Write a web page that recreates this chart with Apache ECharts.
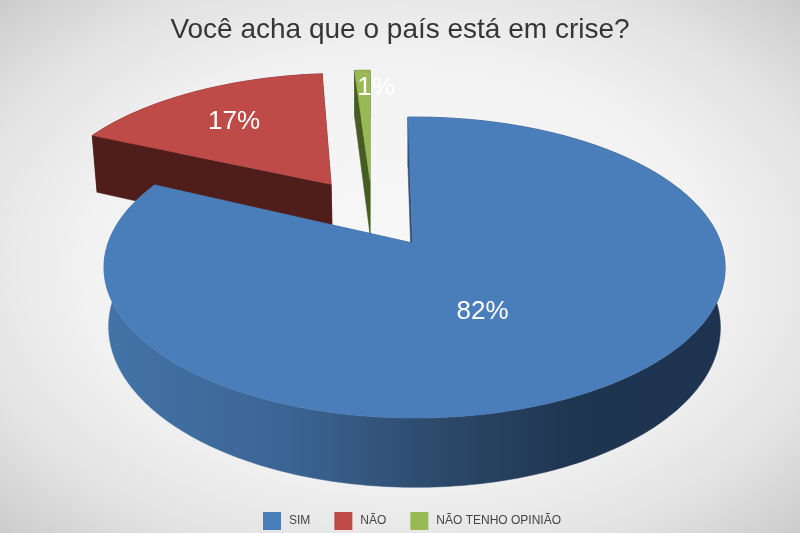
<!DOCTYPE html>
<html>
<head>
<meta charset="utf-8">
<style>html,body{margin:0;padding:0;background:#eee}#c{width:800px;height:533px}</style>
<script src="https://cdn.jsdelivr.net/npm/echarts@6/dist/echarts.min.js"></script>
</head>
<body>
<div id="c"></div>
<script>
var titleText = 'Você acha que o país está em crise?';
var categories = ['SIM', 'NÃO', 'NÃO TENHO OPINIÃO'];
var values = [82, 17, 1];

var topColors = ['#4a7ebb', '#be4b48', '#98b954'];
var wallColors = [
  {type:'linear', global:true, x:104, y:0, x2:725, y2:0, colorStops:[
    {offset:0,color:'#4373a8'},{offset:.3,color:'#3b6493'},{offset:.55,color:'#2c4869'},{offset:.75,color:'#1f3651'},{offset:1,color:'#1d3350'}]},
  '#4f1e1a', '#475c24'
];
// view of the pie plane
var view = {x0:412.5, y0:243, rx:306.4, ry:146.5, p:.163, q:-.0065, k:.985};
// per-slice placement: explosion in the plane, screen nudge, wall depth, label offset from apex
var place = [
  {u:0, v:0, dx:0, depth:58, rot:-1, endRot:0, lx:70, ly:69},
  {u:-.29, v:.43, dx:1.5, depth:65, rot:-1, endRot:-1, lx:-97, ly:-62},
  {u:0, v:.46, dx:-42.5, depth:58, rot:0, endRot:0, lx:6, ly:-92}
];
var total = values.reduce(function(a,b){return a+b;},0);

function proj(u, v, pl, lower){
  var w = 1 + view.p*v + view.q*u;
  var x = view.rx*u/w, y = -view.ry*v/w;
  if (lower){ x *= view.k; y += pl.depth/w; }
  return [view.x0 + x + pl.dx, view.y0 + y];
}
function render(i){
  return function(params, api){
    var pl = place[i];
    var before = 0;
    for (var j=0;j<i;j++) before += values[j];
    var a0 = before/total*360 + pl.rot;
    var a1 = (before+api.value(0))/total*360 + pl.endRot;
    var rim = [], n = Math.max(2, Math.ceil(a1-a0));
    for (var s=0;s<=n;s++){
      var a = (a0+(a1-a0)*s/n)*Math.PI/180;
      rim.push([pl.u+Math.sin(a), pl.v+Math.cos(a)]);
    }
    var up = function(c){return proj(c[0],c[1],pl,false);};
    var low = function(c){return proj(c[0],c[1],pl,true);};
    var apexP = [pl.u, pl.v];
    var wall = wallColors[i];
    var top = [up(apexP)].concat(rim.map(up));
    var arcWall = rim.map(up).concat(rim.map(low).reverse());
    var e0 = [up(apexP), up(rim[0]), low(rim[0]), low(apexP)];
    var e1 = [up(apexP), up(rim[n]), low(rim[n]), low(apexP)];
    var apex = up(apexP);
    var poly = function(pts, fill){
      return {type:'polygon', shape:{points:pts}, style:{fill:fill, stroke:fill, lineWidth:.5}};
    };
    return {type:'group', children:[
      poly(arcWall, wall), poly(e0, wall), poly(e1, wall),
      poly(top, topColors[i]),
      {type:'text', z2:10, style:{
        text: api.value(0)+'%', x:apex[0]+pl.lx, y:apex[1]+pl.ly,
        fill:'#fff', font:'26px "Liberation Sans", Arial, sans-serif',
        align:'center', verticalAlign:'middle'}}
    ]};
  };
}
var chart = echarts.init(document.getElementById('c'), null, {renderer:'canvas'});
chart.setOption({
  animation:false,
  backgroundColor:'#f4f4f4',
  title:{text:titleText, left:'center', top:11,
    textStyle:{color:'#363636', fontSize:28, fontWeight:'normal', fontFamily:'"Liberation Sans", Arial, sans-serif'}},
  legend:{data:categories, top:512, left:263, icon:'rect', itemWidth:18, itemHeight:18, itemGap:24, padding:0,
    textStyle:{color:'#444', fontSize:12, padding:[0,0,0,3], fontFamily:'"Liberation Sans", Arial, sans-serif'}},
  graphic:[{type:'rect', z:-10, silent:true, scaleY:533/800,
    shape:{x:0,y:0,width:800,height:800},
    style:{fill:{type:'radial',x:.5,y:.5,r:.707,colorStops:[
      {offset:0,color:'#f8f8f8'},{offset:.55,color:'#f2f2f2'},{offset:.8,color:'#e2e2e2'},{offset:1,color:'#cccccc'}]}}}],
  series: categories.map(function(name,i){
    return {type:'custom', name:name, coordinateSystem:'none', z:i===0?5:3,
      itemStyle:{color:topColors[i]}, data:[[values[i]]], renderItem:render(i), silent:true};
  })
});
</script>
</body>
</html>
